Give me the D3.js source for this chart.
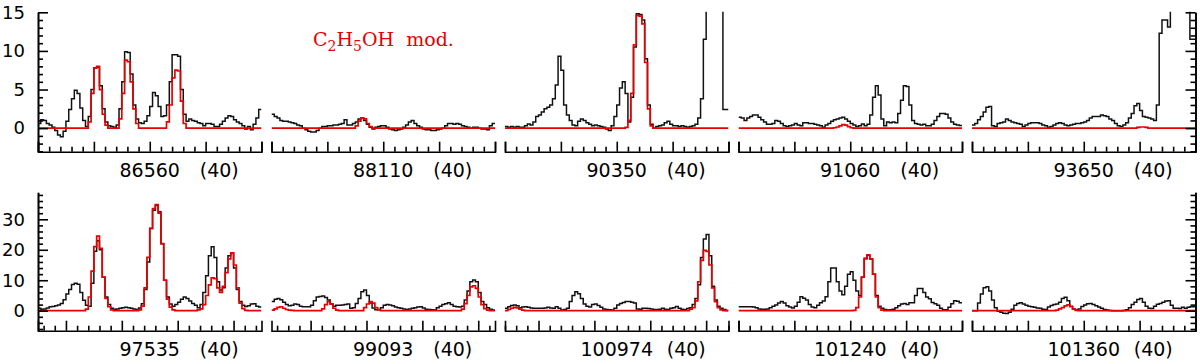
<!DOCTYPE html>
<html>
<head>
<meta charset="utf-8">
<script src="https://cdn.jsdelivr.net/npm/d3@7"></script>
<style>
  body { margin: 0; background: #fff; }
  text { white-space: pre; }
</style>
</head>
<body>
<div id="main-container"></div>
<script>
var width = 1200,
    height = 364

// panel centre frequencies (MHz), each panel spans 40 MHz, channels of 0.5 MHz
var centers = [86560, 88110, 90350, 91060, 93650, 97535, 99093, 100974, 101240, 101360]
var spanLabel = "(40)"
var yTicksTop = [0, 5, 10, 15]
var yTicksBottom = [0, 10, 20, 30]
var modelName = ["C", "2", "H", "5", "OH  mod."]

// observed spectra (black)
var obs86560 = [0.6,1.1,1.0,0.6,0.4,0.1,-0.3,-0.9,-1.1,-0.4, 0.9,2.4,3.8,4.9,4.5,2.6,1.0,0.2,1.5,5.0,
  7.8,7.9,5.5,2.5,0.8,0.3,0.2,0.1,0.4,2.5, 6.0,9.9,9.8,7.0,3.0,1.2,0.7,0.6,0.9,1.6,
  2.8,4.6,4.2,2.8,1.5,1.6,3.0,6.0,9.5,9.5, 9.3,5.0,1.8,0.9,1.2,1.0,0.9,0.7,0.6,0.3,
  0.6,0.6,0.5,0.2,0.2,0.5,0.9,1.3,1.6,1.5, 1.1,0.8,0.6,0.3,-0.1,0.2,-0.2,0.5,1.3,2.4]
var obs88110 = [1.8,1.5,1.3,1.0,0.9,0.9,0.8,0.7,0.6,0.4, 0.3,0.0,-0.2,-0.4,-0.5,-0.5,-0.3,0.0,0.2,0.2,
  0.3,0.3,0.4,0.4,0.5,0.6,1.1,0.4,0.4,0.6, 0.8,1.2,1.3,1.0,0.5,0.1,-0.1,0.1,0.2,0.3,
  0.3,0.1,-0.1,-0.2,-0.3,-0.2,-0.1,0.1,0.4,0.8, 1.0,0.6,0.3,0.1,-0.1,-0.2,-0.2,-0.3,-0.3,-0.2,
  -0.1,0.0,0.3,0.6,0.6,0.5,0.6,0.5,0.3,0.2, 0.1,0.0,0.1,0.1,0.0,-0.1,-0.1,-0.2,0.3,0.6]
var obs90350 = [0.2,0.1,0.2,0.1,0.2,0.1,0.1,0.3,0.55,0.4, 0.8,1.5,1.7,2.1,2.5,2.7,3.0,3.8,5.6,9.3,
  7.5,3.0,1.7,1.0,0.4,0.3,0.9,1.2,1.0,0.7, 0.5,0.3,0.4,0.3,0.2,0.1,-0.1,-0.3,0.3,1.5,
  3.0,5.2,6.0,4.5,0.8,4.0,10.5,14.8,14.7,14.0, 9.0,3.0,0.5,0.0,0.2,0.3,0.4,0.7,0.9,0.5,
  0.3,0.3,0.2,0.3,0.2,0.1,0.2,0.3,0.5,1.3, 3.8,11.5,30,30,30,30,30,30,2.4,2.4]
var obs91060 = [1.4,1.3,1.0,1.3,1.5,1.7,1.7,1.4,1.1,0.8, 0.5,0.5,0.6,1.0,0.9,0.6,0.3,0.2,0.3,0.4,
  0.6,0.4,0.3,0.7,0.7,0.6,0.6,0.5,0.4,0.3, 0.1,0.4,0.6,0.9,1.1,1.2,1.3,1.4,1.2,0.9,
  0.6,0.4,0.2,0.3,0.55,0.3,0.5,1.7,4.0,5.5, 4.3,1.2,0.3,0.8,0.7,0.8,0.7,1.9,3.6,5.5,
  5.4,3.0,1.0,0.6,0.5,0.4,0.5,0.3,0.3,0.5, 1.0,1.5,1.9,1.9,1.8,1.3,0.8,0.5,0.4,0.35]
var obs93650 = [0.4,0.6,1.1,1.5,2.1,2.7,2.8,0.3,0.2,0.6, 0.7,0.8,1.2,1.0,0.8,0.7,0.6,0.5,0.2,0.4,
  0.6,0.7,0.7,0.7,0.6,0.4,0.3,0.1,0.2,0.4, 0.6,0.7,0.6,0.4,0.3,0.4,0.5,0.6,0.6,0.7,
  0.8,1.0,1.3,1.5,1.5,1.5,1.7,1.6,1.5,1.2, 1.0,0.6,0.3,0.2,0.4,0.7,1.3,1.9,2.9,3.2,
  2.3,1.5,1.4,1.3,1.2,1.0,3.0,12.3,14.0,14.0, 13.1,30,30,30,30,30,30,30,11.5,11.5]
var obs97535 = [0.8,0.5,0.6,0.9,1.3,1.4,1.6,1.9,2.4,3.6, 5.5,7.0,8.6,9.0,8.7,6.0,3.4,1.8,1.5,9.0,
  19.5,23.0,20.0,11.0,4.5,2.0,0.8,0.5,0.6,0.8, 1.0,1.1,1.0,0.8,0.6,0.4,0.9,2.3,7.0,16.0,
  27.0,33.0,34.5,32.5,22.0,10.0,4.5,2.2,1.5,2.0, 2.8,3.8,4.5,4.0,3.2,2.4,1.8,1.0,2.0,6.0,
  11.5,18.0,21.0,17.5,9.5,6.8,7.5,14.0,18.0,19.0, 14.0,7.0,3.0,1.8,1.4,1.6,2.2,2.3,1.5,1.2]
var obs99093 = [3.0,3.8,4.0,3.6,2.8,2.0,1.6,1.8,2.2,2.0, 1.5,1.3,1.3,1.3,1.8,3.3,4.5,4.7,4.8,4.3,
  3.5,2.2,1.5,1.8,1.8,1.9,2.0,2.2,0.8,1.0, 2.4,4.0,6.2,6.8,5.0,2.5,0.9,0.3,0.4,1.0,
  1.8,2.0,1.9,1.6,1.2,1.0,0.8,0.6,0.4,0.6, 0.8,1.0,1.2,1.3,0.9,0.5,0.4,0.3,0.2,1.0,
  1.5,2.0,2.3,2.6,2.0,1.5,1.3,1.2,1.5,3.5, 6.5,9.5,10.1,9.5,6.0,3.0,2.0,1.0,0.5,0.2]
var obs100974 = [0.8,1.3,1.7,1.9,1.6,1.0,1.2,1.3,1.1,0.9, 0.8,0.8,0.8,0.8,0.9,1.1,0.9,0.8,1.3,0.8,
  0.2,0.4,0.8,3.0,5.0,6.2,5.6,4.0,2.2,1.5, 1.2,2.0,2.2,1.7,1.1,0.6,0.4,0.3,0.2,0.8,
  1.9,2.4,2.7,3.0,3.0,2.8,2.5,0.6,0.5,0.8, 0.8,0.7,0.6,0.4,0.4,0.5,0.8,0.5,0.4,0.8,
  1.0,1.4,0.8,0.5,0.3,0.7,1.0,2.0,4.0,8.5, 17.5,23.5,25.0,18.0,8.0,3.5,1.5,0.8,0.4,0.1]
var obs101240 = [1.3,1.3,1.3,1.3,1.3,1.2,1.0,0.6,0.5,0.5, 0.6,1.0,1.5,1.9,2.5,3.0,2.5,1.6,1.2,0.9,
  1.5,2.8,4.6,4.1,3.5,2.0,1.2,1.0,1.8,2.6, 3.2,4.6,9.5,14.0,14.0,9.5,6.5,5.2,8.0,12.0,
  12.8,10.0,6.5,5.0,11.0,17.2,18.2,17.0,12.0,5.0, 1.5,0.8,0.4,0.2,0.3,0.5,1.0,1.6,2.2,2.4,
  2.0,2.6,2.6,5.0,7.3,7.3,6.0,4.5,3.9,2.7, 2.3,1.8,0.8,0.3,0.3,1.1,2.3,3.3,3.1,2.6]
var obs101360 = [0.0,0.0,2.5,5.5,7.5,7.9,6.5,3.5,1.0,-0.2, -0.5,-0.8,-0.9,-0.5,0.5,1.8,2.4,2.6,2.2,1.8,
  1.5,1.3,1.1,0.9,0.8,0.5,0.4,1.2,1.7,2.0, 2.2,2.8,4.0,4.4,3.3,1.5,0.5,0.2,0.6,1.4,
  1.9,2.3,2.4,2.0,1.6,1.2,0.8,0.4,0.2,0.1, 0.0,0.0,0.0,0.0,0.1,0.3,1.0,2.0,2.8,3.7,
  4.0,2.8,1.5,0.8,0.7,1.5,2.1,2.4,2.8,3.2, 3.3,1.8,0.8,0.8,0.7,1.1,0.8,1.1,1.3,1.3]

// C2H5OH model (red)
var mod86560 = [0,0,0,0,0,0,0,0,0,0, 0,0,0,0,0,0,0,0,0.8,4.5,
  7.8,8.0,5.0,1.8,0.4,0,0,0,0,1.2, 4.5,8.8,8.6,6.0,2.5,0.6,0,0,0,0,
  0,0,0,0,0,0,0.8,3.0,6.5,7.5, 7.4,3.5,0.6,0,0,0,0,0,0,0,
  0,0,0,0,0,0,0,0,0,0, 0,0,0,0,0,0,0,0,0,0]
var mod88110 = [0,0,0,0,0,0,0,0,0,0, 0,0,0,0,0,0,0,0,0,0,
  0,0,0,0,0,0,0,0,0,0, 0.3,0.9,1.3,1.2,0.6,0.2,0,0,0,0,
  0,0,0,0,0,0,0,0,0,0, 0,0,0,0,0,0,0,0,0,0,
  0,0,0,0,0,0,0,0,0,0, 0,0,0,0,0,0,0,0,0,0]
var mod90350 = [0,0,0,0,0,0,0,0,0,0, 0,0,0,0,0,0,0,0,0,0,
  0,0,0,0,0,0,0,0,0,0, 0,0,0,0,0,0,0,0,0,0,
  0,0,0,0.1,1.0,4.5,10.8,14.6,14.5,13.5, 8.5,2.5,0.3,0,0,0,0,0,0,0,
  0,0,0,0,0,0,0,0,0,0, 0,0,0,0,0,0,0,0,0,0]
var mod91060 = [0,0,0,0,0,0,0,0,0,0, 0,0,0,0,0,0,0,0,0,0,
  0,0,0,0,0,0,0,0,0,0, 0,0,0,0,0.05,0.15,0.3,0.45,0.4,0.2,
  0.05,0,0,0,0,0,0,0,0,0, 0,0,0,0,0,0,0,0,0,0,
  0,0,0,0,0,0,0,0,0,0, 0,0,0,0,0,0,0,0,0,0]
var mod93650 = [0,0,0,0,0,0,0,0,0,0, 0,0,0,0,0,0,0,0,0,0,
  0,0,0,0,0,0,0,0,0,0, 0,0,0,0,0,0,0,0,0,0,
  0,0,0,0,0,0,0,0,0,0, 0,0,0,0,0,0,0,0,0,0.1,
  0.15,0.15,0.1,0,0,0,0,0,0,0, 0,0,0,0,0,0,0,0,0,0]
var mod97535 = [0,0,0,0,0,0,0,0,0,0, 0,0,0,0,0,0,0,0.5,4.5,13.0,
  21.0,24.5,20.5,11.0,4.0,1.3,0.3,0,0,0, 0,0,0,0,0,0,0.3,1.5,7.5,17.5,
  27.0,33.5,34.8,32.0,22.0,10.0,3.8,1.2,0.3,0, 0,0,0,0,0,0,0,0.3,0.6,2.0,
  5.0,8.5,10.8,10.5,7.5,6.0,8.0,12.5,17.0,19.0, 15.0,7.5,2.5,0.7,0.1,0,0,0,0,0]
var mod99093 = [0.2,0.6,1.1,1.3,0.8,0.4,0.2,0.1,0,0, 0,0,0,0,0,0,0,0,0.6,2.0,
  3.0,2.2,0.8,0.2,0,0,0,0,0,0, 0,0,0,1.0,2.2,3.0,2.5,1.0,0.3,0,
  0,0,0,0,0,0,0,0,0,0, 0,0,0,0,0,0,0,0,0,0,
  0,0,0,0,0,0,0,0,0.5,2.3, 5.0,7.8,8.2,7.3,4.5,2.0,0.7,0.2,0,0]
var mod100974 = [0,0.4,0.8,1.1,0.9,0.5,0.2,0,0,0, 0,0,0,0,0,0,0,0,0,0,
  0,0,0,0,0,0,0,0,0,0, 0,0,0,0,0,0,0,0,0,0,
  0,0,0,0,0,0,0,0,0,0, 0,0,0,0,0,0,0,0,0,0,
  0,0,0,0,0,0,0.5,1.0,3.2,9.5, 16.5,19.8,19.5,15.0,7.5,3.0,1.0,0.3,0,0]
var mod101240 = [0,0,0,0,0,0,0,0,0,0, 0,0,0,0,0,0,0,0,0,0,
  0,0,0,0,0,0,0,0,0,0, 0,0,0,0,0,0,0,0,0,0,
  0,0.1,1.0,4.5,11.0,17.0,18.3,17.0,12.0,4.5, 1.0,0.2,0,0,0,0,0,0,0,0,
  0,0,0,0,0,0,0,0,0,0, 0,0,0,0,0,0,0,0,0,0]
var mod101360 = [0,0,0,0,0,0,0,0,0,0, 0,0,0,0,0,0,0,0,0,0,
  0,0,0,0,0,0,0,0,0,0, 0.2,0.6,1.0,1.6,1.9,1.3,0.5,0.1,0,0,
  0,0,0,0,0,0,0,0,0,0, 0,0,0,0,0,0,0,0,0,0,
  0,0,0,0,0,0,0,0,0,0, 0,0,0,0,0,0,0,0,0,0]

var obsList = [obs86560, obs88110, obs90350, obs91060, obs93650, obs97535, obs99093, obs100974, obs101240, obs101360]
var modList = [mod86560, mod88110, mod90350, mod91060, mod93650, mod97535, mod99093, mod100974, mod101240, mod101360]

var halfSpan = 20, chan = 0.5
var red = "#e60000"
var font = "DejaVu Sans, sans-serif"

// layout
var panelLeft = 38, panelW = 223.5, panelStep = 233.5
var rows = [
  {top: 12.3, bottom: 151.7, domain: [-3.05, 15], major: yTicksTop, minor: 1},
  {top: 192.3, bottom: 330.7, domain: [-6.56, 38.86], major: yTicksBottom, minor: 2}
]

var svg = d3.select("#main-container").append("svg")
  .attr("width", width)
  .attr("height", height)
  .style("display", "block")

function styleAxis(g) {
  g.attr("color", "#000")
  g.selectAll("path, line").attr("stroke-width", 1.6)
}

centers.forEach(function(c, i) {
  var row = rows[Math.floor(i / 5)]
  var col = i % 5
  var x0 = panelLeft + col * panelStep

  var x = d3.scaleLinear().domain([c - halfSpan, c + halfSpan]).range([x0, x0 + panelW])
  var y = d3.scaleLinear().domain(row.domain).range([row.bottom, row.top])

  var clipId = "clip" + i
  svg.append("clipPath").attr("id", clipId)
    .append("rect")
    .attr("x", x0).attr("y", row.top - 0.5)
    .attr("width", panelW).attr("height", row.bottom - row.top + 0.5)

  function steps(vals) {
    var p = vals.map(function(v, k) { return [c - halfSpan + k * chan, v] })
    p.push([c + halfSpan, vals[vals.length - 1]])
    return p
  }

  var line = d3.line()
    .x(function(d) { return x(d[0]) })
    .y(function(d) { return y(d[1]) })
    .curve(d3.curveStepAfter)

  var plot = svg.append("g").attr("clip-path", "url(#" + clipId + ")")
  plot.append("path")
    .attr("d", line(steps(obsList[i])))
    .attr("fill", "none").attr("stroke", "#111").attr("stroke-width", 1.5)
  plot.append("path")
    .attr("d", line(steps(modList[i])))
    .attr("fill", "none").attr("stroke", red).attr("stroke-width", 1.7)

  // bottom axis: minor every 2 MHz, major every 10 MHz
  var lo = c - halfSpan, hi = c + halfSpan
  var majorX = d3.range(Math.ceil(lo / 10) * 10, hi + 1e-6, 10)
  var minorX = d3.range(Math.ceil(lo / 2) * 2, hi + 1e-6, 2).filter(function(v) { return v % 10 != 0 })

  svg.append("g")
    .attr("transform", "translate(0," + row.bottom + ")")
    .call(d3.axisBottom(x).tickValues(minorX).tickSize(-5).tickSizeOuter(-10).tickFormat(""))
    .call(styleAxis)
  svg.append("g")
    .attr("transform", "translate(0," + row.bottom + ")")
    .call(d3.axisBottom(x).tickValues(majorX).tickSize(-10).tickSizeOuter(0).tickFormat(""))
    .call(styleAxis)
    .select(".domain").remove()

  svg.append("text")
    .attr("x", x(c)).attr("y", row.bottom + 25)
    .attr("text-anchor", "middle")
    .attr("font-family", font).attr("font-size", 19)
    .text(c)
  svg.append("text")
    .attr("x", x(c) + 50).attr("y", row.bottom + 25)
    .attr("font-family", font).attr("font-size", 19)
    .text(spanLabel)

  var minorY = d3.range(Math.ceil(row.domain[0] / row.minor) * row.minor, row.domain[1] + 1e-6, row.minor)
    .filter(function(v) { return row.major.indexOf(v) < 0 })

  if (col == 0) {
    var ly = svg.append("g").attr("transform", "translate(" + x0 + ",0)")
    ly.call(d3.axisLeft(y).tickValues(row.major).tickSize(-10).tickSizeOuter(0).tickPadding(13))
      .call(styleAxis)
    ly.selectAll("text").attr("font-family", font).attr("font-size", 18).attr("fill", "#000")
    svg.append("g").attr("transform", "translate(" + x0 + ",0)")
      .call(d3.axisLeft(y).tickValues(minorY).tickSize(-5).tickSizeOuter(0).tickFormat(""))
      .call(styleAxis)
  }
  if (col == 4) {
    var xr = x0 + panelW
    svg.append("g").attr("transform", "translate(" + xr + ",0)")
      .call(d3.axisRight(y).tickValues(row.major).tickSize(-10).tickSizeOuter(0).tickFormat(""))
      .call(styleAxis)
    svg.append("g").attr("transform", "translate(" + xr + ",0)")
      .call(d3.axisRight(y).tickValues(minorY).tickSize(-5).tickSizeOuter(0).tickFormat(""))
      .call(styleAxis)
  }
})

// model label
var lbl = svg.append("text")
  .attr("x", 313).attr("y", 46)
  .attr("fill", red)
  .attr("font-family", "DejaVu Serif, serif")
  .attr("font-size", 19)
lbl.append("tspan").text(modelName[0])
lbl.append("tspan").attr("dy", 5).attr("font-size", 14).text(modelName[1])
lbl.append("tspan").attr("dy", -5).text(modelName[2])
lbl.append("tspan").attr("dy", 5).attr("font-size", 14).text(modelName[3])
lbl.append("tspan").attr("dy", -5).text(modelName[4])
</script>
</body>
</html>
